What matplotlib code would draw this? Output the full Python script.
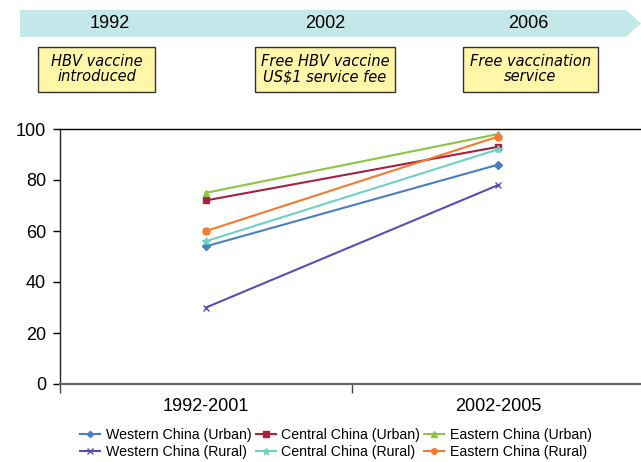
import matplotlib
matplotlib.use("Agg")
import matplotlib.pyplot as plt
from matplotlib.patches import Polygon, Rectangle

W, H = 641, 462

periods = ["1992-2001", "2002-2005"]
western_urban = [54, 86]
central_urban = [72, 93]
eastern_urban = [75, 98]
western_rural = [30, 78]
central_rural = [56, 92]
eastern_rural = [60, 97]

years = ["1992", "2002", "2006"]
events = ["HBV vaccine\nintroduced",
          "Free HBV vaccine\nUS$1 service fee",
          "Free vaccination\nservice"]
y_ticks = [0, 20, 40, 60, 80, 100]


def px(x, y):
    """pixel (from top-left) -> figure fraction"""
    return x / W, 1 - y / H


def main():
    plt.rcParams['font.family'] = ['Liberation Sans', 'DejaVu Sans']
    fig = plt.figure(figsize=(W / 100, H / 100), dpi=100)

    # timeline banner
    pts = [px(20, 10), px(626, 10), px(641, 23.5), px(626, 37), px(20, 37)]
    fig.add_artist(Polygon(pts, closed=True, transform=fig.transFigure,
                           facecolor="#c4e7e9", edgecolor="none"))
    year_x = [110, 325, 528]
    for x, yr in zip(year_x, years):
        fig.text(*px(x, 23.5), yr, ha="center", va="center", fontsize=13)

    boxes = [(38, 155), (255, 395), (463, 598)]
    for (x0, x1), ev in zip(boxes, events):
        l, t = px(x0, 47)
        r, b = px(x1, 92)
        fig.add_artist(Rectangle((l, b), r - l, t - b, transform=fig.transFigure,
                                 facecolor="#fff6a8", edgecolor="#333333", lw=1))
        fig.text((l + r) / 2, (t + b) / 2, ev, ha="center", va="center",
                 fontsize=10.5, style="italic", family="DejaVu Sans",
                 linespacing=1.0)

    # chart
    l, t = px(60, 129)
    r, b = px(644, 384)
    ax = fig.add_axes([l, b, r - l, t - b])
    x = range(len(periods))
    series = [
        ("Western China (Urban)", western_urban, "#4a7ec4", "D", 4),
        ("Western China (Rural)", western_rural, "#5a4db8", "x", 5),
        ("Central China (Urban)", central_urban, "#a8203f", "s", 5),
        ("Central China (Rural)", central_rural, "#6fd0c4", "*", 6),
        ("Eastern China (Urban)", eastern_urban, "#8cc63e", "^", 5),
        ("Eastern China (Rural)", eastern_rural, "#f47a30", "o", 5),
    ]
    for label, vals, col, mk, ms in series:
        ax.plot(x, vals, color=col, marker=mk, markersize=ms, lw=1.5,
                label=label, clip_on=False)

    ax.set_xlim(-0.5, 1.5)
    ax.set_ylim(0, 100)
    ax.set_yticks(y_ticks)
    ax.tick_params(axis="y", direction="out", length=5, width=1, pad=5,
                   labelsize=13)
    ax.set_xticks([-0.5, 0.5, 1.5])
    ax.set_xticklabels([])
    ax.tick_params(axis="x", which="major", direction="out", length=6.5,
                   width=1, color="#444444")
    ax.set_xticks([0, 1], minor=True)
    ax.set_xticklabels(periods, minor=True)
    ax.tick_params(axis="x", which="minor", length=0, pad=10, labelsize=13)

    ax.spines["right"].set_visible(False)
    ax.spines["top"].set_linewidth(1)
    ax.spines["left"].set_linewidth(1)
    ax.spines["left"].set_color("#222222")
    ax.spines["bottom"].set_linewidth(1.6)
    ax.spines["bottom"].set_color("#666666")

    fig.legend(loc="center", bbox_to_anchor=px(336, 443.5), ncol=3,
               frameon=False, fontsize=10.2, handlelength=1.4,
               handletextpad=0.4, columnspacing=0.3, labelspacing=0.2,
               borderaxespad=0, markerscale=0.8)

    fig.savefig("out.png", dpi=100)


if __name__ == "__main__":
    main()
